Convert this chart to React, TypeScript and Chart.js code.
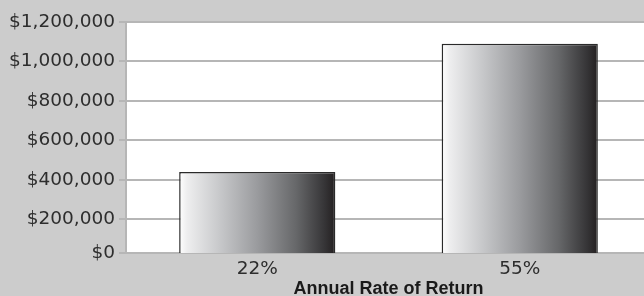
import React, { useEffect, useRef } from 'react';
import { Chart, registerables } from 'chart.js';

Chart.register(...registerables);

const categories = ['22%', '55%'];
const values = [440000, 1090000];
const yTickValues = [0, 200000, 400000, 600000, 800000, 1000000, 1200000];
const yTickLabels = ['$0', '$200,000', '$400,000', '$600,000', '$800,000', '$1,000,000', '$1,200,000'];
const xTitle = 'Annual Rate of Return';

// the reference draws its $0 line slightly compressed toward $200,000
const Y_FLOOR = 30000;
const Y_MAX = 1200000;
const BAR_PCT = 0.595;

const GRID = '#b6b6b6';
const BG = '#cccccc';

function barGradient(ctx: any) {
  const chart = ctx.chart;
  const xs = chart.scales && chart.scales.x;
  const area = chart.chartArea;
  if (!xs || !area || ctx.dataIndex === undefined) return '#888888';
  const center = xs.getPixelForValue(ctx.dataIndex);
  const half = ((area.right - area.left) / categories.length) * BAR_PCT / 2;
  const g = chart.ctx.createLinearGradient(center - half, 0, center + half, 0);
  g.addColorStop(0, '#ffffff');
  g.addColorStop(0.05, '#eeeeef');
  g.addColorStop(0.25, '#c9cacc');
  g.addColorStop(0.5, '#9a9b9e');
  g.addColorStop(0.75, '#666769');
  g.addColorStop(0.93, '#363537');
  g.addColorStop(1, '#231f20');
  return g;
}

const bgPlugin = {
  id: 'bgPlugin',
  beforeDraw(chart: any) {
    const { ctx, chartArea, width, height } = chart;
    ctx.save();
    ctx.fillStyle = BG;
    ctx.fillRect(0, 0, width, height);
    ctx.fillStyle = '#ffffff';
    ctx.fillRect(chartArea.left, chartArea.top, chartArea.right - chartArea.left, chartArea.bottom - chartArea.top);
    ctx.restore();
  },
};

export default function App() {
  const ref = useRef<HTMLCanvasElement | null>(null);

  useEffect(() => {
    if (!ref.current) return;
    const chart = new Chart(ref.current, {
      type: 'bar',
      data: {
        labels: categories,
        datasets: [
          {
            data: values,
            backgroundColor: barGradient,
            borderColor: '#2a2a2a',
            borderWidth: 1.5,
            borderSkipped: false,
            barPercentage: BAR_PCT,
            categoryPercentage: 1,
          },
        ],
      },
      options: {
        animation: false,
        responsive: false,
        devicePixelRatio: 1,
        layout: { padding: { top: 22, left: 0, right: 0, bottom: 0 } },
        plugins: {
          legend: { display: false },
          tooltip: { enabled: false },
          title: { display: false },
        },
        scales: {
          x: {
            grid: { display: false },
            border: { display: true, color: GRID, width: 2 },
            ticks: {
              color: '#2d2d2d',
              font: { family: 'DejaVu Sans', size: 18.5 },
              padding: -3,
            },
            title: {
              display: true,
              text: xTitle,
              color: '#1a1a1a',
              font: { family: 'Liberation Sans', size: 18, weight: 'bold', lineHeight: 1 },
              padding: { top: 0, bottom: -2 },
            },
            afterFit: (s: any) => {
              s.height = 43;
            },
          },
          y: {
            min: Y_FLOOR,
            max: Y_MAX,
            afterBuildTicks: (s: any) => {
              s.ticks = yTickValues.map((v) => ({ value: Math.max(v, Y_FLOOR) }));
            },
            grid: { color: GRID, lineWidth: 2, tickLength: 7, drawTicks: true },
            border: { display: true, color: GRID, width: 2 },
            ticks: {
              color: '#2d2d2d',
              font: { family: 'DejaVu Sans', size: 18.5 },
              padding: 4,
              callback: (_v: any, i: number) => yTickLabels[i],
            },
            afterFit: (s: any) => {
              s.width = 126;
            },
          },
        },
      },
      plugins: [bgPlugin],
    });
    return () => chart.destroy();
  }, []);

  return (
    <div style={{ position: 'absolute', left: 0, top: 0, width: 644, height: 296, overflow: 'hidden', background: BG }}>
      <canvas ref={ref} width={651} height={296} style={{ display: 'block', width: 651, height: 296 }} />
    </div>
  );
}
